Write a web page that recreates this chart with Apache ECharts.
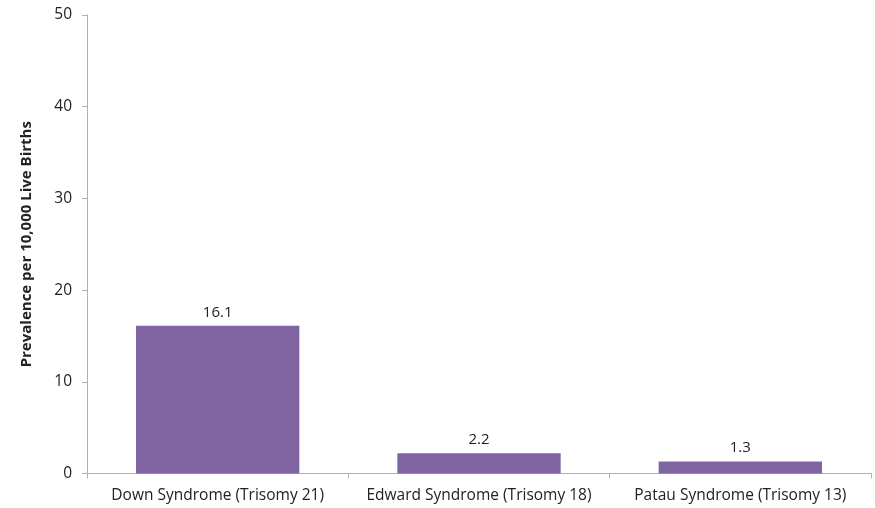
<!DOCTYPE html>
<html><head><meta charset="utf-8">
<script src="https://cdn.jsdelivr.net/npm/echarts@6/dist/echarts.min.js"></script>
<style>html,body{margin:0;padding:0;background:#fff}#c{width:875px;height:508px}</style>
</head><body><div id="c"></div>
<script>
const categories = ['Down Syndrome (Trisomy 21)', 'Edward Syndrome (Trisomy 18)', 'Patau Syndrome (Trisomy 13)'];
const values = [16.1, 2.2, 1.3];
const yTicks = {min: 0, max: 50, interval: 10};
const yName = 'Prevalence per 10,000 Live Births';

const chart = echarts.init(document.getElementById('c'));
const font = '"Open Sans", "Liberation Sans", Arial, sans-serif';
chart.setOption({
  animation: false,
  grid: {left: 87, right: 4, top: 15, bottom: 34.5},
  xAxis: {
    type: 'category', data: categories,
    axisLine: {lineStyle: {color: '#b0b0b0'}},
    axisTick: {show: true, alignWithLabel: false, length: 5, lineStyle: {color: '#b0b0b0'}},
    axisLabel: {color: '#222', fontFamily: font, fontSize: 15.5, margin: 14, interval: 0}
  },
  yAxis: {
    type: 'value', min: yTicks.min, max: yTicks.max, interval: yTicks.interval,
    name: yName, nameLocation: 'middle', nameGap: 53,
    nameTextStyle: {fontFamily: font, fontSize: 15, fontWeight: 'bold', color: '#222'},
    axisLine: {show: true, lineStyle: {color: '#b0b0b0'}},
    axisTick: {show: true, length: 5, lineStyle: {color: '#b0b0b0'}},
    splitLine: {show: false},
    axisLabel: {color: '#222', fontFamily: font, fontSize: 15.5, margin: 15}
  },
  series: [{
    type: 'bar', data: values, barCategoryGap: '37.5%',
    itemStyle: {color: '#8064A2'},
    label: {show: true, position: 'top', distance: 6, color: '#222', fontFamily: font, fontSize: 15}
  }]
});
</script></body></html>
